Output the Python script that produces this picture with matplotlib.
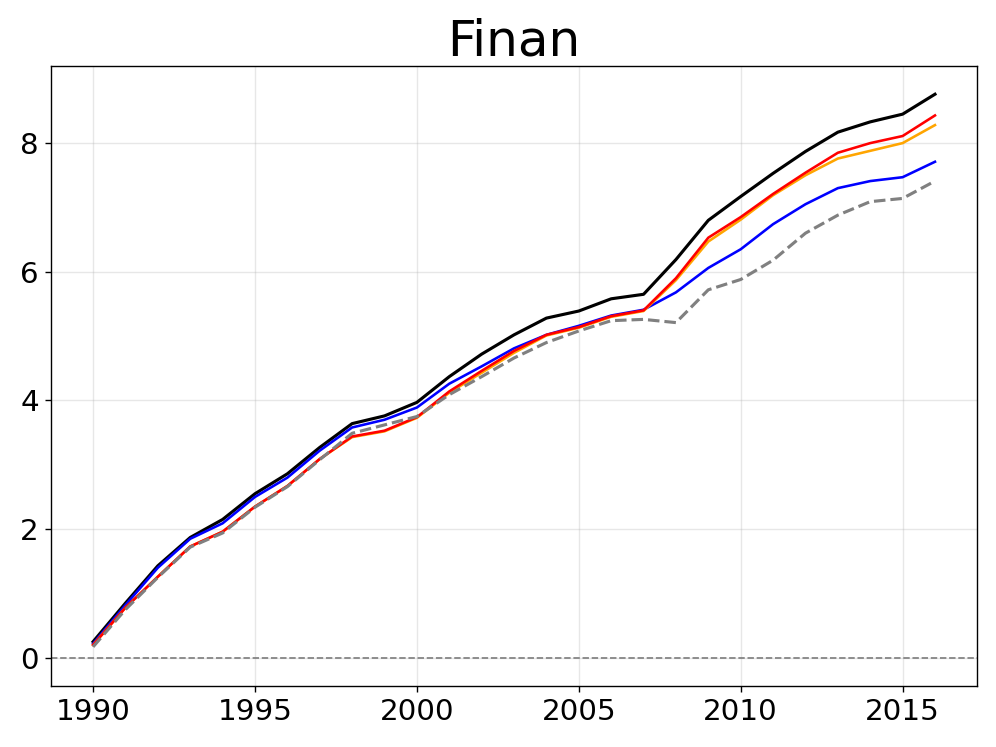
import matplotlib
matplotlib.use("Agg")
import matplotlib.pyplot as plt

years = list(range(1990, 2017))

black = [0.25, 0.85, 1.43, 1.87, 2.15, 2.55, 2.86, 3.27, 3.64, 3.76, 3.97, 4.37, 4.72, 5.02,
         5.28, 5.39, 5.58, 5.65, 6.19, 6.80, 7.17, 7.53, 7.87, 8.17, 8.33, 8.45, 8.76]
blue = [0.22, 0.82, 1.40, 1.85, 2.09, 2.50, 2.80, 3.22, 3.58, 3.70, 3.89, 4.26, 4.53, 4.81,
        5.02, 5.16, 5.32, 5.41, 5.68, 6.06, 6.35, 6.74, 7.05, 7.30, 7.41, 7.47, 7.71]
orange = [0.20, 0.78, 1.26, 1.73, 1.96, 2.35, 2.67, 3.09, 3.43, 3.52, 3.73, 4.12, 4.43, 4.74,
          5.01, 5.13, 5.30, 5.39, 5.87, 6.47, 6.81, 7.19, 7.50, 7.76, 7.88, 8.00, 8.28]
red = [0.20, 0.78, 1.26, 1.73, 1.96, 2.35, 2.67, 3.09, 3.44, 3.53, 3.74, 4.14, 4.46, 4.77,
       5.02, 5.14, 5.31, 5.40, 5.90, 6.53, 6.85, 7.21, 7.54, 7.85, 8.00, 8.11, 8.43]
gray = [0.17, 0.75, 1.25, 1.72, 1.94, 2.34, 2.66, 3.08, 3.49, 3.62, 3.75, 4.09, 4.37, 4.66,
        4.90, 5.08, 5.24, 5.26, 5.21, 5.72, 5.88, 6.18, 6.60, 6.88, 7.09, 7.14, 7.41]

fig = plt.figure(figsize=(8, 6), dpi=124.5)
ax = fig.add_axes([0.0512, 0.0817, 0.9298, 0.8299])

ax.plot(years, black, color="black", lw=1.8)
ax.plot(years, blue, color="blue", lw=1.5)
ax.plot(years, orange, color="orange", lw=1.5)
ax.plot(years, red, color="red", lw=1.5)
ax.plot(years, gray, color="gray", lw=1.8, ls="--")
ax.axhline(0, color="gray", lw=1, ls="--")

# include zero in the autoscaled range like the original
ax.set_ylim(-0.438, 9.198)
ax.grid(True, alpha=0.3)
ax.set_title("Finan", fontsize=29)
ax.tick_params(labelsize=17)

fig.savefig("out.png", dpi=124.5)
